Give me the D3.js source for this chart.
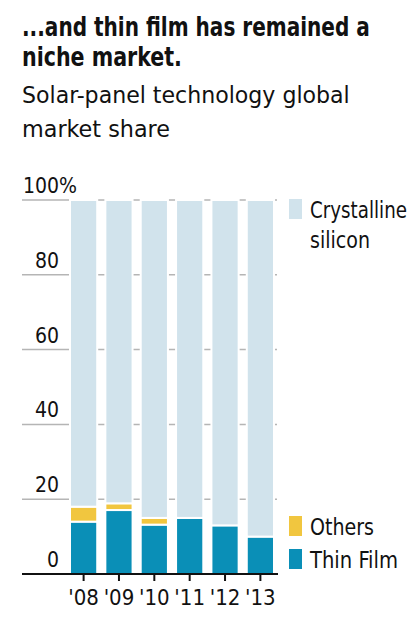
<!DOCTYPE html>
<html>
<head>
<meta charset="utf-8">
<script src="https://cdn.jsdelivr.net/npm/d3@7"></script>
<style>
  html, body { margin: 0; padding: 0; background: #fff; }
  svg { display: block; }
  text { font-family: "Liberation Sans Narrow", "DejaVu Sans Condensed", "Roboto", sans-serif; fill: #111; }
</style>
</head>
<body>
<div id="chart"></div>
<script>
let width  = 420,
    height = 627;

// data (percent of global market)
let years      = ["'08", "'09", "'10", "'11", "'12", "'13"];
let thinFilm   = [14.0, 17.1, 13.2, 15.0, 13.0, 10.0];
let others     = [4.0, 1.8, 1.8, 0.0, 0.0, 0.0];
let yTicks     = [0, 20, 40, 60, 80, 100];
let seriesKeys = ["thinFilm", "others", "crystalline"];

let rows = years.map(function(y, i) {
  return {
    year: y,
    thinFilm: thinFilm[i],
    others: others[i],
    crystalline: 100 - thinFilm[i] - others[i]
  };
});

let color = d3.scaleOrdinal()
  .domain(seriesKeys)
  .range(["#0a8fb7", "#f1c63f", "#d1e3ec"]);

let svg =
  d3.select("#chart")
    .append("svg")
      .attr("width", width)
      .attr("height", height);

let x = d3.scaleBand()
  .domain(years)
  .range([70, 274])
  .paddingInner(0.23)
  .paddingOuter(0);

let y = d3.scaleLinear()
  .domain([0, 100])
  .range([574, 200]);

// squeeze a left-anchored text to the width measured on the reference
function fit(sel, target) {
  sel.each(function() {
    let t = d3.select(this),
        w = this.getComputedTextLength();
    if (Math.abs(w - target) / target > 0.03) {
      let px = +t.attr("x"), py = +t.attr("y");
      t.attr("x", 0).attr("y", 0)
       .attr("transform", "translate(" + px + "," + py + ") scale(" + (target / w) + ",1)");
    }
  });
  return sel;
}

// headline + subtitle
let titleLines = [["...and thin film has remained a", 36, 348], ["niche market.", 66, 160]];
titleLines.forEach(function(t) {
  svg.append("text")
    .attr("x", 22).attr("y", t[1])
    .attr("font-size", 27).attr("font-weight", "bold")
    .text(t[0])
    .call(fit, t[2]);
});

let subLines = [["Solar-panel technology global", 103, 328], ["market share", 137, 148]];
subLines.forEach(function(t) {
  svg.append("text")
    .attr("x", 22).attr("y", t[1])
    .attr("font-size", 23)
    .text(t[0])
    .call(fit, t[2]);
});

// gridlines
svg.append("g")
  .selectAll("line")
  .data(yTicks.filter(function(d) { return d > 0; }))
  .enter()
  .append("line")
    .attr("x1", 22).attr("x2", 277)
    .attr("y1", function(d) { return y(d); })
    .attr("y2", function(d) { return y(d); })
    .attr("stroke", "#b5b5b5")
    .attr("stroke-width", 1.5);

// y labels
let yLab = svg.append("g");
yLab.selectAll("text")
  .data(yTicks)
  .enter()
  .append("text")
    .attr("x", 59)
    .attr("y", function(d) { return y(d) - 7; })
    .attr("text-anchor", "end")
    .attr("font-size", 21)
    .text(function(d) { return d; });
yLab.append("text")
  .attr("x", 59)
  .attr("y", y(100) - 7)
  .attr("font-size", 21)
  .text("%");

// stacked bars
let stack = d3.stack().keys(seriesKeys)(rows);

svg.append("g")
  .selectAll("g")
  .data(stack)
  .enter()
  .append("g")
    .attr("fill", function(d) { return color(d.key); })
  .selectAll("rect")
  .data(function(d) { return d.filter(function(p) { return p[1] - p[0] > 0; }); })
  .enter()
  .append("rect")
    .attr("x", function(d) { return x(d.data.year); })
    .attr("width", x.bandwidth())
    .attr("y", function(d) { return y(d[1]); })
    .attr("height", function(d) { return y(d[0]) - y(d[1]); })
    .attr("stroke", "#fff")
    .attr("stroke-width", 2);

// x axis
svg.append("line")
  .attr("x1", 22).attr("x2", 278)
  .attr("y1", y(0)).attr("y2", y(0))
  .attr("stroke", "#111")
  .attr("stroke-width", 2);

let xt = svg.append("g")
  .selectAll("g")
  .data(years)
  .enter()
  .append("g")
    .attr("transform", function(d) { return "translate(" + (x(d) + x.bandwidth() / 2) + "," + y(0) + ")"; });

xt.append("line")
  .attr("y1", 0).attr("y2", 7)
  .attr("stroke", "#111")
  .attr("stroke-width", 2);

xt.append("text")
  .attr("y", 31)
  .attr("text-anchor", "middle")
  .attr("font-size", 22)
  .text(function(d) { return d; });

// legend
let legend = [
  {key: "crystalline", lines: [["Crystalline", 97], ["silicon", 60]], top: 199},
  {key: "others",      lines: [["Others", 64]],                       top: 516},
  {key: "thinFilm",    lines: [["Thin Film", 88]],                    top: 549}
];

let lg = svg.append("g")
  .selectAll("g")
  .data(legend)
  .enter()
  .append("g");

lg.append("rect")
  .attr("x", 289)
  .attr("y", function(d) { return d.top; })
  .attr("width", 13)
  .attr("height", 20)
  .attr("fill", function(d) { return color(d.key); });

lg.each(function(d) {
  let g = d3.select(this);
  d.lines.forEach(function(l, i) {
    g.append("text")
      .attr("x", 310)
      .attr("y", d.top + 19 + i * 30)
      .attr("font-size", 23)
      .text(l[0])
      .call(fit, l[1]);
  });
});
</script>
</body>
</html>
